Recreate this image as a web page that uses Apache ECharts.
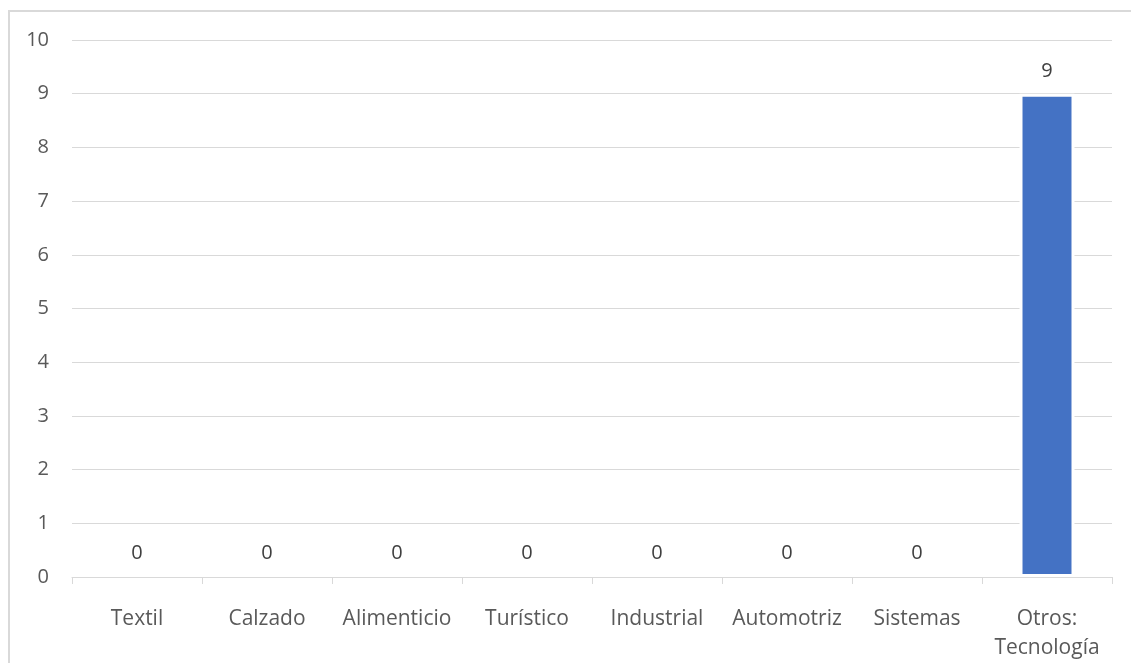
<!DOCTYPE html>
<html>
<head>
<meta charset="utf-8">
<script src="https://cdn.jsdelivr.net/npm/echarts@6/dist/echarts.min.js"></script>
<style>
  html, body { margin: 0; padding: 0; background: #fff; }
  #frame { position: absolute; left: 8px; top: 10px; width: 1140px; height: 670px; border: 2px solid #d9d9d9; box-sizing: border-box; }
  #chart { position: absolute; left: 0; top: 0; width: 1131px; height: 663px; }
</style>
</head>
<body>
<div id="frame"></div>
<div id="chart"></div>
<script>
const categories = ['Textil', 'Calzado', 'Alimenticio', 'Turístico', 'Industrial', 'Automotriz', 'Sistemas', 'Otros:\nTecnología'];
const values = [0, 0, 0, 0, 0, 0, 0, 9];
const yTicks = { min: 0, max: 10, interval: 1 };

const chart = echarts.init(document.getElementById('chart'), null, { renderer: 'canvas' });
const font = '"Open Sans", "Noto Sans", sans-serif';
chart.setOption({
  animation: false,
  backgroundColor: 'transparent',
  grid: { left: 72, right: 19, top: 40, bottom: 83, containLabel: false },
  xAxis: {
    type: 'category',
    data: categories,
    z: 5,
    axisLine: { lineStyle: { color: '#d9d9d9', width: 1 } },
    axisTick: { show: true, length: 7, lineStyle: { color: '#d9d9d9' } },
    axisLabel: { color: '#595959', fontSize: 21, fontFamily: font, margin: 28, lineHeight: 29, interval: 0 }
  },
  yAxis: {
    type: 'value',
    min: yTicks.min, max: yTicks.max, interval: yTicks.interval,
    axisLine: { show: false },
    axisTick: { show: false },
    axisLabel: { color: '#595959', fontSize: 20, fontFamily: font, margin: 23 },
    splitLine: { lineStyle: { color: '#d9d9d9', width: 1 } }
  },
  series: [{
    type: 'bar',
    data: values,
    barWidth: 55,
    itemStyle: { color: '#4472c4', borderColor: '#ffffff', borderWidth: 3 },
    label: {
      show: true,
      position: 'top',
      distance: 12,
      color: '#404040',
      fontSize: 20,
      fontFamily: font
    }
  }]
});
</script>
</body>
</html>
